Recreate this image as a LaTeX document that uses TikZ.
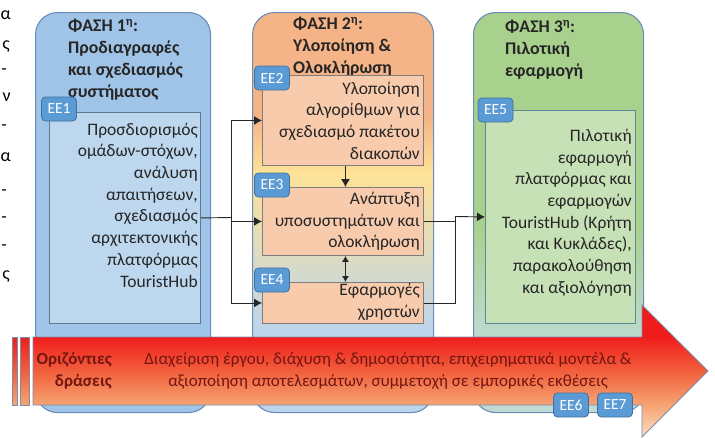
\documentclass[tikz,border=0pt]{standalone}
\usepackage{fontspec}
\setmainfont{Carlito}
\usetikzlibrary{arrows.meta}

\definecolor{phline}{RGB}{105,140,185}
\definecolor{ph1fill}{RGB}{160,196,231}
\definecolor{in1fill}{RGB}{189,215,238}
\definecolor{in1line}{RGB}{95,120,150}
\definecolor{ph2orange}{RGB}{245,180,135}
\definecolor{ph2yellow}{RGB}{254,226,150}
\definecolor{ph2blue}{RGB}{189,213,236}
\definecolor{in2fill}{RGB}{248,203,173}
\definecolor{in2line}{RGB}{125,125,125}
\definecolor{ph3green}{RGB}{169,209,142}
\definecolor{ph3blue}{RGB}{192,219,214}
\definecolor{in3fill}{RGB}{199,225,183}
\definecolor{in3line}{RGB}{95,135,150}
\definecolor{tagblue}{RGB}{91,155,213}
\definecolor{tagline}{RGB}{65,113,156}
\definecolor{hzred}{RGB}{240,28,28}
\definecolor{hzorange}{RGB}{242,95,60}
\definecolor{hzlight}{RGB}{246,165,115}
\definecolor{hzpeach}{RGB}{251,222,195}
\definecolor{hzline}{RGB}{125,140,170}
\definecolor{hztext}{RGB}{115,22,18}

\pgfdeclareverticalshading{phasetwo}{100bp}{color(0bp)=(ph2blue); color(35bp)=(ph2blue); color(55bp)=(ph2yellow); color(62bp)=(ph2orange); color(100bp)=(ph2orange)}
\pgfdeclareverticalshading{phasethree}{100bp}{color(0bp)=(ph3blue); color(33bp)=(ph3blue); color(48bp)=(ph3green); color(100bp)=(ph3green)}
\pgfdeclareverticalshading{bigarrow}{100bp}{color(0bp)=(hzpeach); color(25bp)=(hzpeach); color(37bp)=(hzlight); color(50bp)=(hzorange); color(63bp)=(hzred); color(100bp)=(hzred)}
\pgfdeclareverticalshading{bigbar}{100bp}{color(0bp)=(hzlight); color(25bp)=(hzlight); color(50bp)=(hzorange); color(75bp)=(hzred); color(100bp)=(hzred)}

\tikzset{
  phase/.style={draw=phline, line width=1.1pt, rounded corners=22pt, anchor=north west, inner sep=0pt},
  inbox/.style={line width=0.9pt, anchor=north west, inner sep=0pt},
  ttl/.style={font=\fontsize{17.8}{21.8}\selectfont\bfseries, text=black!85, align=left, inner sep=0pt, anchor=west},
  intxt/.style={font=\fontsize{17.5}{21.7}\selectfont, text=black!85, align=right, inner sep=0pt, anchor=east},
  tag/.style={fill=tagblue, draw=tagline, line width=0.8pt, rounded corners=4pt, minimum width=35pt, minimum height=24pt, inner sep=0pt, text=white, font=\fontsize{15.5}{17}\selectfont},
  conn/.style={draw=black!85, line width=0.9pt},
  arr/.style={conn, -{Latex[length=8pt,width=9pt]}},
  frag/.style={font=\fontsize{18}{20}\selectfont, inner sep=0pt, anchor=east}
}

\begin{document}
\begin{tikzpicture}[x=1pt,y=-1pt]
\useasboundingbox (0,0) rectangle (715,437);

    %Restos de la columna vecina
    \foreach \c/\x/\y [count=\i] in {α/11/15, ς/10/47, -/7/72, ν/11/97, -/7/128, α/11/157, -/7/193, -/7/220, -/7/248, ς/10/277}{
        \node[frag] (fr\i) at (\x,\y) {\c};
    }

    %Fases
    \node[phase, fill=ph1fill, minimum width=175pt, minimum height=400pt] (ph1) at (35,12) {};
    \node[phase, shade, shading=phasetwo, minimum width=181pt, minimum height=400pt] (ph2) at (252,12) {};
    \node[phase, shade, shading=phasethree, minimum width=170pt, minimum height=400pt] (ph3) at (473,12) {};

    \node[ttl] (t1) at (68,59.5) {ΦΑΣΗ 1\textsuperscript{η}:\\Προδιαγραφές\\και σχεδιασμός\\συστήματος};
    \node[ttl] (t2) at (293,46.5) {ΦΑΣΗ 2\textsuperscript{η}:\\Υλοποίηση \&\\Ολοκλήρωση};
    \node[ttl] (t3) at (505,49.5) {ΦΑΣΗ 3\textsuperscript{η}:\\Πιλοτική\\εφαρμογή};

    %Ενότητες εργασίας
    \node[inbox, fill=in1fill, draw=in1line, minimum width=151pt, minimum height=211pt] (ee1) at (49,112) {};
    \node[inbox, fill=in2fill, draw=in2line, minimum width=161pt, minimum height=90pt] (ee2) at (262,75) {};
    \node[inbox, fill=in2fill, draw=in2line, minimum width=161pt, minimum height=68pt] (ee3) at (262,187) {};
    \node[inbox, fill=in2fill, draw=in2line, minimum width=161pt, minimum height=41pt] (ee4) at (262,282) {};
    \node[inbox, fill=in3fill, draw=in3line, minimum width=150pt, minimum height=213pt] (ee5) at (485,110) {};

    \node[intxt] (x1) at (198,205) {Προσδιορισμός\\ομάδων-στόχων,\\ανάλυση\\απαιτήσεων,\\σχεδιασμός\\αρχιτεκτονικής\\πλατφόρμας\\TouristHub};
    \node[intxt] (x2) at (420,120.5) {Υλοποίηση\\αλγορίθμων για\\σχεδιασμό πακέτου\\διακοπών};
    \node[intxt] (x3) at (420,221.5) {Ανάπτυξη\\υποσυστημάτων και\\ολοκλήρωση};
    \node[intxt] (x4) at (420,301.5) {Εφαρμογές\\χρηστών};
    \node[intxt] (x5) at (632,212.5) {Πιλοτική\\εφαρμογή\\πλατφόρμας και\\εφαρμογών\\TouristHub (Κρήτη\\και Κυκλάδες),\\παρακολούθηση\\και αξιολόγηση};

    \node[tag] (g1) at (59,109) {EE1};
    \node[tag] (g2) at (272,78) {EE2};
    \node[tag] (g3) at (272,185) {EE3};
    \node[tag] (g4) at (272,280) {EE4};
    \node[tag] (g5) at (495.5,110) {EE5};

    %Συνδέσεις
    \coordinate (split) at (231,217.5);
    \coordinate (merge) at (455,216.5);
    \draw[conn] (ee1.east) -- (split);
    \draw[arr] (split) |- (ee2.west);
    \draw[arr] (split) |- (ee3.west);
    \draw[arr] (split) |- (ee4.west);
    \draw[arr] ([xshift=2.5pt]ee2.south) -- ([xshift=2.5pt]ee3.north);
    \draw[conn, {Latex[length=6pt,width=7pt]}-{Latex[length=6pt,width=7pt]}] ([xshift=2.5pt]ee3.south) -- ([xshift=2.5pt]ee4.north);
    \draw[conn] (ee3.east) -| (merge);
    \draw[conn] (ee4.east) -| (merge);
    \draw[arr] (merge) -- (ee5.west);

    %Οριζόντιες δράσεις
    \path[draw=hzline, line width=0.8pt, shading=bigarrow] (33,337) -- (642,337) -- (642,305) -- (708,371) -- (642,437) -- (642,405) -- (33,405) -- cycle;
    \path[draw=hzline, line width=0.8pt, shading=bigbar] (12,337) rectangle (17,405);
    \path[draw=hzline, line width=0.8pt, shading=bigbar] (20,337) rectangle (29,405);

    \node[font=\fontsize{17}{22}\selectfont\bfseries, text=hztext, align=right, inner sep=0pt, anchor=east] (hz) at (112,371) {Οριζόντιες\\δράσεις};
    \node[font=\fontsize{17}{22}\selectfont, text=hztext, align=center, inner sep=0pt] (hzt) at (388,371) {Διαχείριση έργου, διάχυση \& δημοσιότητα, επιχειρηματικά μοντέλα \&\\αξιοποίηση αποτελεσμάτων, συμμετοχή σε εμπορικές εκθέσεις};

    \node[tag] (g6) at (571,405) {EE6};
    \node[tag] (g7) at (615,405) {EE7};
\end{tikzpicture}
\end{document}
